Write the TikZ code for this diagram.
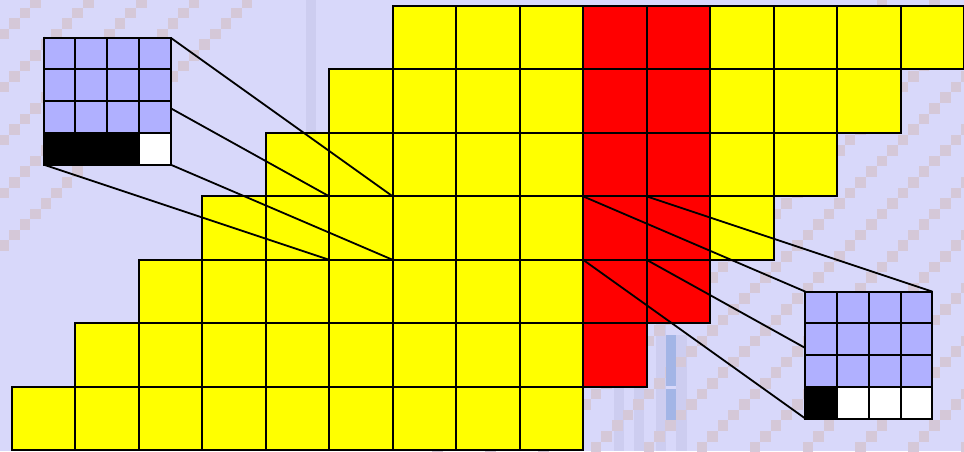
\documentclass[tikz,border=0pt]{standalone}
\usetikzlibrary{calc}
\definecolor{bgcol}{RGB}{216,216,250}
\definecolor{patcol}{RGB}{213,200,216}
\definecolor{bandcol}{RGB}{205,205,240}
\definecolor{barcol}{RGB}{163,181,230}
\definecolor{insetcol}{RGB}{176,176,255}
\definecolor{cellyellow}{RGB}{255,255,0}
\definecolor{cellred}{RGB}{255,0,0}
\tikzset{
  cellbox/.style={draw=black, line width=2pt},
  zoomline/.style={draw=black, line width=1.8pt},
  patsq/.style={fill=patcol},
  bandbox/.style={fill=bandcol},
}
\begin{document}
\begin{tikzpicture}[x=1pt,y=-1pt]
\useasboundingbox (0,0) rectangle (964,451);
\clip (0,0) rectangle (964,451);
\fill[bgcol] (0,0) rectangle (964,451);
\def\s{63.4667}
\def\pc{10.58}
% faint vertical bands of the backdrop
\fill[bandbox] (306,0) rectangle (316,200);
\fill[bandbox] (614,387) rectangle (624,451);
\fill[bandbox] (634,387) rectangle (644,451);
\fill[bandbox] (656,323) rectangle (666,451);
\fill[bandbox] (676,335) rectangle (687,451);
% diagonal stripes of small squares
\foreach \n in {0,5,...,20}{
  \foreach \i in {-2,...,25}{
    \fill[patsq] ({9+\i*\pc},{18.3+(\n-\i)*\pc}) rectangle ++(\pc,\pc);
  }
}
\foreach \n in {81,86,...,131}{
  \foreach \i in {40,...,92}{
    \fill[patsq] ({9+\i*\pc},{18.3+(\n-1-\i)*\pc}) rectangle ++(\pc,\pc);
  }
}
\fill[barcol] (666,335) rectangle (676,386);
\fill[barcol] (666,389) rectangle (676,420);
% staircase grid
\foreach \r/\a/\b in {0/6/14, 1/5/13, 2/4/12, 3/3/11, 4/2/10, 5/1/9, 6/0/8}{
  \foreach \k in {\a,...,\b}{
    \ifnum\k=9 \def\cc{cellred}\else\ifnum\k=10 \def\cc{cellred}\else\def\cc{cellyellow}\fi\fi
    \filldraw[cellbox, fill=\cc] ({12+\k*\s},{6+\r*\s}) rectangle ++(\s,\s);
  }
}
% corners of the magnified cells and of the insets
\coordinate (LcTL) at ({12+5*\s},{6+3*\s});
\coordinate (LcTR) at ({12+6*\s},{6+3*\s});
\coordinate (LcBL) at ({12+5*\s},{6+4*\s});
\coordinate (LcBR) at ({12+6*\s},{6+4*\s});
\coordinate (LiTL) at ({12+0.5*\s},{6+0.5*\s});
\coordinate (LiTR) at ({12+2.5*\s},{6+0.5*\s});
\coordinate (LiBL) at ({12+0.5*\s},{6+2.5*\s});
\coordinate (LiBR) at ({12+2.5*\s},{6+2.5*\s});
\coordinate (RcTL) at ({12+9*\s},{6+3*\s});
\coordinate (RcTR) at ({12+10*\s},{6+3*\s});
\coordinate (RcBL) at ({12+9*\s},{6+4*\s});
\coordinate (RcBR) at ({12+10*\s},{6+4*\s});
\coordinate (RiTL) at ({12+12.5*\s},{6+4.5*\s});
\coordinate (RiTR) at ({12+14.5*\s},{6+4.5*\s});
\coordinate (RiBL) at ({12+12.5*\s},{6+6.5*\s});
\coordinate (RiBR) at ({12+14.5*\s},{6+6.5*\s});
% zoom connectors
\draw[zoomline] (LcTL) -- (LiTL);
\draw[zoomline] (LcTR) -- (LiTR);
\draw[zoomline] (LcBL) -- (LiBL);
\draw[zoomline] (LcBR) -- (LiBR);
\draw[zoomline] (RcTL) -- (RiTL);
\draw[zoomline] (RcTR) -- (RiTR);
\draw[zoomline] (RcBL) -- (RiBL);
\draw[zoomline] (RcBR) -- (RiBR);
% left inset
\foreach \i in {0,...,3}{
  \foreach \j in {0,...,2}{
    \filldraw[cellbox, fill=insetcol] ($(LiTL)+({\i*\s/2},{\j*\s/2})$) rectangle ++({\s/2},{\s/2});
  }
}
\foreach \i/\cc in {0/black,1/black,2/black,3/white}{
  \filldraw[cellbox, fill=\cc] ($(LiTL)+({\i*\s/2},{1.5*\s})$) rectangle ++({\s/2},{\s/2});
}
% right inset
\foreach \i in {0,...,3}{
  \foreach \j in {0,...,2}{
    \filldraw[cellbox, fill=insetcol] ($(RiTL)+({\i*\s/2},{\j*\s/2})$) rectangle ++({\s/2},{\s/2});
  }
}
\foreach \i/\cc in {0/black,1/white,2/white,3/white}{
  \filldraw[cellbox, fill=\cc] ($(RiTL)+({\i*\s/2},{1.5*\s})$) rectangle ++({\s/2},{\s/2});
}
\end{tikzpicture}
\end{document}
